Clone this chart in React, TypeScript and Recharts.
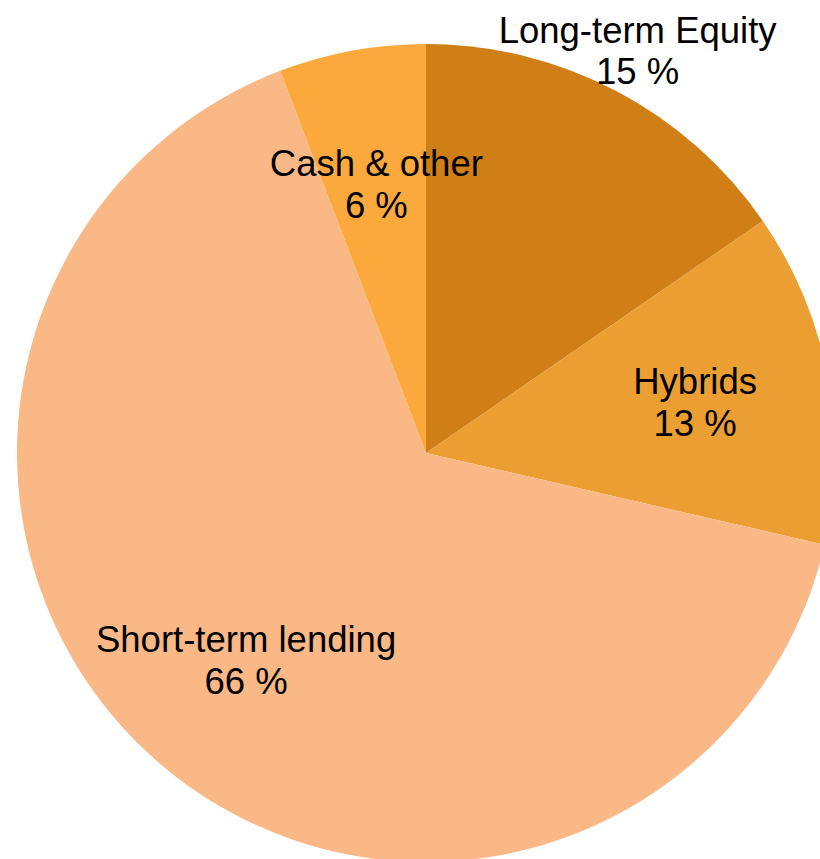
import { Cell, Pie, PieChart } from "recharts";

const categories = ["Long-term Equity", "Hybrids", "Short-term lending", "Cash & other"];
const shares = [15.4, 13.2, 65.6, 5.8];
const sliceColors = ["#d07e16", "#eb9e31", "#f9b885", "#fba83c"];

const chartData = categories.map((name, i) => ({ name, value: shares[i] }));

const RADIAN = Math.PI / 180;

type LabelProps = {
  cx: number;
  cy: number;
  midAngle: number;
  index: number;
  name: string;
  value: number;
};

function SliceLabel({ cx, cy, midAngle, index, name, value }: LabelProps) {
  // the first label sits outside the pie so it does not collide with "Cash & other"
  const r = index === 0 ? 455 : 274;
  const x = cx + r * Math.cos(-midAngle * RADIAN);
  const y = cy + r * Math.sin(-midAngle * RADIAN);
  return (
    <text
      x={x}
      y={y}
      textAnchor="middle"
      fill="#000"
      fontSize={36.5}
      fontFamily="Helvetica, 'Liberation Sans', Arial, sans-serif"
    >
      <tspan x={x} y={y - 7.5}>
        {name}
      </tspan>
      <tspan x={x} y={y + 34}>
        {`${Math.round(value)} %`}
      </tspan>
    </text>
  );
}

export default function App() {
  return (
    <div style={{ position: "absolute", left: 0, top: 0, width: 820, height: 859, overflow: "hidden", background: "#fff" }}>
      <PieChart width={820} height={859} margin={{ top: 0, right: 0, bottom: 0, left: 0 }}>
        <Pie
          data={chartData}
          dataKey="value"
          nameKey="name"
          cx={426}
          cy={453}
          outerRadius={409}
          startAngle={90}
          endAngle={-270}
          stroke="none"
          labelLine={false}
          label={(props: any) => <SliceLabel {...props} />}
          isAnimationActive={false}
        >
          {chartData.map((entry, i) => (
            <Cell key={entry.name} fill={sliceColors[i]} />
          ))}
        </Pie>
      </PieChart>
    </div>
  );
}
